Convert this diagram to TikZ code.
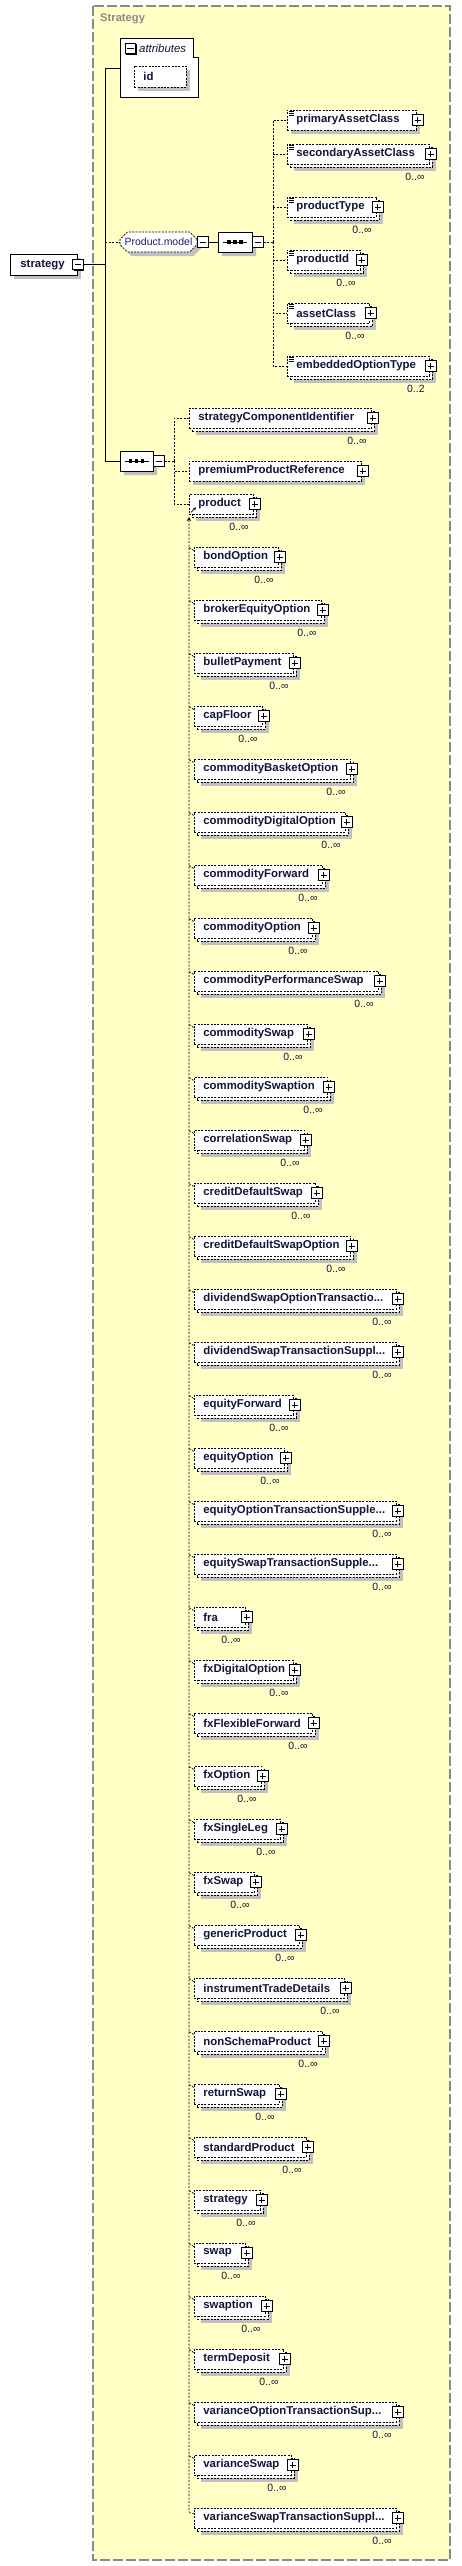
\documentclass[tikz,border=0pt]{standalone}
\usepackage{fontspec}
\setmainfont{Liberation Sans}
\usetikzlibrary{shapes.misc,shadows,arrows.meta}

\definecolor{panel}{HTML}{FFFFC6}
\definecolor{panelline}{HTML}{8A8A8A}
\definecolor{shadowgray}{HTML}{C0C0C0}
\definecolor{labelink}{HTML}{141438}
\definecolor{groupink}{HTML}{1E1E70}

\newcommand{\elemfont}{\fontsize{11.4}{13}\selectfont\bfseries}
\newcommand{\cardfont}{\fontsize{10.5}{12}\selectfont}
\newcommand{\trunc}{...}

\tikzset{
  castshadow/.style={drop shadow={shadow xshift=4pt, shadow yshift=-4pt, opacity=1, fill=shadowgray}},
  optline/.style={dash pattern=on 2pt off 1.3pt, line width=0.8pt},
  conn/.style={draw, dash pattern=on 2pt off 1.5pt, line width=0.7pt},
  wire/.style={draw, line width=0.8pt},
  elembox/.style={draw, optline, fill=white, anchor=west, minimum height=20pt,
    inner xsep=9pt, inner ysep=0pt, font=\elemfont, text=labelink},
  backbox/.style={draw, optline, fill=white, anchor=west, minimum height=20pt,
    inner sep=0pt, castshadow},
  rootbox/.style={draw, line width=0.8pt, fill=white, anchor=west, minimum height=21pt,
    inner xsep=10pt, inner ysep=0pt, font=\elemfont, text=labelink, castshadow},
  pmbox/.style={draw, line width=0.7pt, fill=white, minimum size=10.5pt, inner sep=0pt,
    drop shadow={shadow xshift=1.2pt, shadow yshift=-1.2pt, opacity=1, fill=black}},
  plusbox/.style={pmbox, path picture={
      \draw[line width=0.7pt] ([xshift=2pt]path picture bounding box.west) -- ([xshift=-2pt]path picture bounding box.east)
        ([yshift=2pt]path picture bounding box.south) -- ([yshift=-2pt]path picture bounding box.north);}},
  minusbox/.style={pmbox, path picture={
      \draw[line width=0.7pt] ([xshift=2pt]path picture bounding box.west) -- ([xshift=-2pt]path picture bounding box.east);}},
  card/.style={anchor=east, inner sep=0pt, font=\cardfont, text=labelink},
  compositor/.style={chamfered rectangle, chamfered rectangle xsep=5pt, minimum height=20pt,
    inner sep=0pt, fill=white, castshadow},
}

% element with maxOccurs > 1: name, left x, centre y, width, text, cardinality
\newcommand{\multi}[6]{%
  \node[backbox, minimum width=#4pt] (#1-b) at (#2+3,#3+3) {};
  \pgfmathsetmacro\boxtext{#4-18}%
  \node[elembox, minimum width=#4pt] (#1) at (#2,#3) {\makebox[\boxtext pt][l]{#5}};
  \node[plusbox] (#1-p) at ([xshift=1pt]#1.east) {};
  \node[card] (#1-c) at ([xshift=-5pt,yshift=-23pt]#1.east) {#6};
}
% optional single element: name, left x, centre y, width, text
\newcommand{\single}[5]{%
  \pgfmathsetmacro\boxtext{#4-18}%
  \node[elembox, castshadow, minimum width=#4pt] (#1) at (#2,#3) {\makebox[\boxtext pt][l]{#5}};
  \node[plusbox] (#1-p) at ([xshift=1pt]#1.east) {};
}
% simple content mark
\newcommand{\simpleicon}[1]{%
  \foreach \k in {2,4,6}
    \draw[line width=0.6pt] ([xshift=2pt,yshift=-\k pt]#1.north west) -- ++(5,0);
}
% sequence mark inside a compositor
\newcommand{\seqmark}[1]{%
  \draw[line width=0.8pt] ([xshift=-12pt]#1.center) -- ([xshift=12pt]#1.center);
  \foreach \dx in {-6,0,6}
    \fill ([xshift=\dx pt-1.6pt, yshift=-1.6pt]#1.center) rectangle ++(3.2pt,3.2pt);
}

\begin{document}
\begin{tikzpicture}[x=1pt, y=-1pt]
  \useasboundingbox (0,0) rectangle (461,2566);

  % complex type panel
  \draw[panelline, fill=panel, line width=1.2pt, dash pattern=on 10pt off 3pt] (93,6) rectangle (450,2560);
  \node[anchor=west, inner sep=0pt, font=\fontsize{11.2}{13}\selectfont\bfseries, text=panelline] (title) at (100,19) {Strategy};

  % attributes
  \draw[wire, fill=white] (120,38) -- (193,38) -- (193,57) -- (198,57) -- (198,97) -- (120,97) -- cycle;
  \node[minusbox] (attr-m) at (130.5,48.5) {};
  \node[anchor=west, inner sep=0pt, font=\fontsize{11.4}{13}\selectfont\itshape, text=labelink] (attr-t) at (139,48) {attributes};
  \node[elembox, castshadow, minimum width=52pt, minimum height=21pt] (id) at (134,76.5) {\makebox[34pt][l]{id}};
  \coordinate (attr-w) at (120,68);

  % root element
  \node[rootbox, minimum width=67pt] (root) at (10,264.5) {\makebox[47pt][l]{strategy}};
  \node[minusbox] (root-m) at (root.east) {};

  % Product.model group
  \node[compositor, draw, optline, minimum width=77pt, font=\fontsize{10.5}{12}\selectfont, text=groupink] (pm) at (158.5,242) {Product.model};
  \node[minusbox, anchor=west] (pm-m) at (pm.east) {};
  \node[compositor, wire, minimum width=34pt] (seq1) at (235,242) {};
  \node[minusbox, anchor=west] (seq1-m) at (seq1.east) {};
  \seqmark{seq1}

  \single{pac}{287}{120}{129}{primaryAssetClass}
  \multi{sac}{287}{154}{142}{secondaryAssetClass}{0..∞}
  \multi{ptype}{287}{207}{89}{productType}{0..∞}
  \multi{pid}{287}{260}{73}{productId}{0..∞}
  \multi{acls}{287}{313}{82}{assetClass}{0..∞}
  \multi{eot}{287}{366}{142}{embeddedOptionType}{0..2}
  \foreach \n in {pac,sac,ptype,pid,acls,eot} {\simpleicon{\n}}

  % second sequence
  \node[compositor, wire, minimum width=33pt] (seq2) at (136.5,461) {};
  \node[minusbox, anchor=west] (seq2-m) at (seq2.east) {};
  \seqmark{seq2}

  \multi{sci}{189}{418}{182}{strategyComponentIdentifier}{0..∞}
  \single{ppr}{189}{471}{172}{premiumProductReference}
  \multi{prod}{189}{504}{64}{product}{0..∞}
  \draw[line width=0.7pt, -{Stealth[length=3pt,width=3pt]}] ([xshift=2pt,yshift=2pt]prod.south west) -- ++(5,-5);

  % substitution group members of product
  \foreach \lbl/\w [count=\i from 0] in {bondOption/84, brokerEquityOption/127,
      bulletPayment/99, capFloor/68, commodityBasketOption/156, commodityDigitalOption/151,
      commodityForward/128, commodityOption/118, commodityPerformanceSwap/184,
      commoditySwap/113, commoditySwaption/133, correlationSwap/110, creditDefaultSwap/121,
      creditDefaultSwapOption/156, dividendSwapOptionTransactio\trunc/202,
      dividendSwapTransactionSuppl\trunc/202, equityForward/99, equityOption/90,
      equityOptionTransactionSupple\trunc/202, equitySwapTransactionSupple\trunc/202, fra/51,
      fxDigitalOption/99, fxFlexibleForward/118, fxOption/67, fxSingleLeg/86, fxSwap/60,
      genericProduct/105, instrumentTradeDetails/150, nonSchemaProduct/128, returnSwap/85,
      standardProduct/112, strategy/66, swap/51, swaption/71, termDeposit/89,
      varianceOptionTransactionSup\trunc/202, varianceSwap/97,
      varianceSwapTransactionSuppl\trunc/202} {
    \pgfmathsetmacro\cy{557+53*\i}
    \multi{m\i}{194}{\cy}{\w}{\lbl}{0..∞}
  }

  % connectors
  \coordinate (trunk-top) at (105,68);
  \coordinate (trunk-pm) at (105,242);
  \coordinate (trunk-root) at (105,264.5);
  \coordinate (trunk-bot) at (105,461);
  \draw[wire] (attr-w) -- (trunk-top) -- (trunk-bot) -- (seq2.west);
  \draw[wire] (root-m.east) -- (trunk-root);
  \draw[conn] (trunk-pm) -- (pm.west);
  \draw[wire] (pm-m.east) -- (seq1.west);

  \coordinate (bus1) at (273,242);
  \draw[conn] (seq1-m.east) -- (bus1);
  \foreach \n in {pac,sac,ptype,pid,acls,eot} \draw[conn] (bus1) |- (\n.west);

  \coordinate (bus2) at (174,461);
  \draw[conn] (seq2-m.east) -- (bus2);
  \foreach \n in {sci,ppr,prod} \draw[conn] (bus2) |- (\n.west);

  \coordinate (subst-top) at (189,517);
  \draw[conn, rounded corners=3pt, -{Stealth[length=4pt,width=4pt]}] ([yshift=-6pt]m37.north west) -| (subst-top);
  \foreach \i in {0,...,36}
    \draw[conn] ([xshift=-5pt,yshift=-1pt]m\i.north west) -- ([yshift=-4pt]m\i.north west);
\end{tikzpicture}
\end{document}
